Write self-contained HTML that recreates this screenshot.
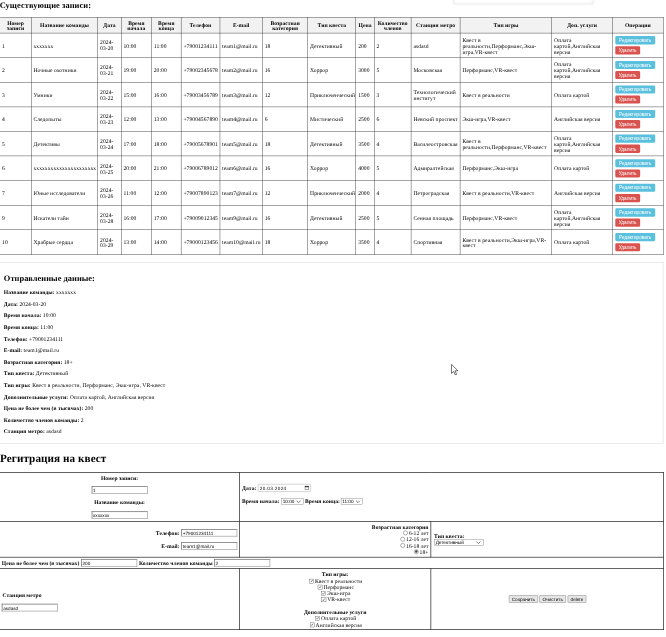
<!DOCTYPE html>
<html lang="ru"><head><meta charset="utf-8"><title>Регитрация на квест</title>
<style>
html,body{margin:0;padding:0;background:#fff;}
body{width:666px;height:637px;overflow:hidden;position:relative;font-family:"Liberation Serif",serif;font-size:16px;color:#000;}
#page{letter-spacing:0.15px;text-rendering:geometricPrecision;position:absolute;left:0;top:0;width:1903px;height:1820px;transform:scale(0.35);transform-origin:0 0;background:#fff;line-height:18px;}
h2.h-exist{position:absolute;left:-1px;top:0.5px;letter-spacing:0.2px;margin:0;font-size:24px;line-height:28px;font-weight:bold;}
table.recs{position:absolute;left:-1px;top:49px;width:1896px;table-layout:fixed;border-collapse:collapse;font-size:16px;line-height:17px;}
table.recs th,table.recs td{border:1px solid #000;padding:3px 8px 0 6px;text-align:left;vertical-align:middle;overflow:visible;}
table.recs th{background:#f2f2f2;text-align:center;font-weight:bold;height:41px;padding:3px 4px 0 4px;}
table.recs td{height:66.3px;white-space:nowrap;}
td.ops button{letter-spacing:0;display:block;border:0;border-radius:4px;color:#fff;font-family:"Liberation Sans",sans-serif;font-size:13.33px;line-height:15px;padding:4px 0;margin:0 0 0 1.5px;height:23.3px;text-align:center;}
td.ops .b-edit{background:#5bc0de;margin-bottom:5.7px;margin-top:-3.2px;width:114px}
td.ops .b-del{background:#d9534f;width:71px;height:23.7px}
.sent{position:absolute;left:-1px;top:749px;width:1894px;height:516.5px;border:1px solid #c2c2c2;box-sizing:content-box;}
.sent h2{position:absolute;left:11px;top:32px;margin:0;font-size:24px;line-height:28px;}
.sent p{position:absolute;left:11px;margin:0;line-height:18px;white-space:nowrap;}
h1.reg{position:absolute;left:0;top:1290.3px;margin:0;font-size:32px;line-height:37px;font-weight:bold;}
table.form{position:absolute;left:-2px;top:1348.8px;width:1897px;table-layout:fixed;border-collapse:collapse;font-size:16px;line-height:18px;}
table.form td{border:2px solid #222;padding:0 5px;vertical-align:middle;}
.inp{display:inline-block;box-sizing:border-box;width:160px;height:21.5px;border:2px solid #666;border-right-color:#a0a0a0;border-bottom-color:#a0a0a0;background:#fff;font-family:"Liberation Sans",sans-serif;font-size:13.33px;line-height:20px;padding:0.5px 2px 0 2px;text-align:left;vertical-align:middle;font-weight:normal;white-space:nowrap;overflow:hidden;letter-spacing:0;}
.sel{letter-spacing:0;display:inline-block;box-sizing:border-box;height:19px;border:1px solid #666;background:#fff;font-family:"Liberation Sans",sans-serif;font-size:13.33px;line-height:16px;padding:0 3px;text-align:left;vertical-align:middle;font-weight:normal;position:relative;white-space:nowrap;}
.sel svg{position:absolute;right:6.5px;top:4.5px;}
.blk{display:block;margin:0;}
.c1r1{text-align:center;}
.c1r1 .blk{margin-bottom:16px;height:18px;}
.c1r1 .blk.i{height:21.5px;line-height:21.5px;}
.cb{display:inline-block;box-sizing:border-box;width:13px;height:13px;border:1.4px solid #444;background:#fff;vertical-align:-2px;margin:0 3px 0 4px;position:relative;}
.cb svg{position:absolute;left:0.6px;top:0.6px;}
.rb{display:inline-block;box-sizing:border-box;width:13px;height:13px;border:1.5px solid #222;border-radius:50%;background:#fff;vertical-align:0px;margin:0 3px 0 5px;position:relative;}
.rb.on:after{content:"";position:absolute;left:1.7px;top:1.7px;width:7px;height:7px;border-radius:50%;background:#444;}
.btn{letter-spacing:0;display:inline-block;box-sizing:border-box;height:21px;border:1px solid #5a5a5a;background:#e6e6e6;font-family:"Liberation Sans",sans-serif;font-size:13.33px;line-height:19px;padding:0;text-align:center;border-radius:2px;margin:0 2.4px;vertical-align:middle;}
.lb{position:relative;top:2px}

.lb2{position:relative;top:2.5px}
b,th,h2{letter-spacing:0.08px}
.topbox{position:absolute;left:1296px;top:-20px;width:398px;height:30px;box-sizing:border-box;border:1.5px solid #dde3ea;border-radius:0 0 8px 8px;background:#fff;box-shadow:0 1px 5px rgba(0,0,40,0.08);}
.cursor{position:absolute;left:1287.5px;top:1039px;}

</style></head>
<body>
<div id="page">
<h2 class="h-exist">Существующие записи:</h2>
<table class="recs"><colgroup><col style="width:89.6px"><col style="width:190.4px"><col style="width:66.7px"><col style="width:86.6px"><col style="width:84.7px"><col style="width:110.7px"><col style="width:121.7px"><col style="width:129.6px"><col style="width:137.3px"><col style="width:52.3px"><col style="width:105.7px"><col style="width:140.0px"><col style="width:262.0px"><col style="width:173.1px"><col style="width:145.6px"></colgroup>
<thead><tr><th>Номер записи</th><th>Название команды</th><th>Дата</th><th>Время начала</th><th>Время конца</th><th>Телефон</th><th>E-mail</th><th>Возрастная категория</th><th>Тип квеста</th><th>Цена</th><th>Количество членов</th><th>Станция метро</th><th>Тип игры</th><th>Доп. услуги</th><th>Операции</th></tr></thead>
<tbody>
<tr><td>1</td><td>xxxxxxx</td><td>2024-<br>03-20</td><td>10:00</td><td>11:00</td><td>+79001234111</td><td>team1@mail.ru</td><td>18</td><td>Детективный</td><td>200</td><td>2</td><td>asdasd</td><td>Квест в<br>реальности,Перформанс,Экш-<br>игра,VR-квест</td><td>Оплата<br>картой,Английская<br>версия</td><td class="ops"><button class="b-edit">Редактировать</button><button class="b-del">Удалить</button></td></tr>
<tr><td>2</td><td>Ночные охотники</td><td>2024-<br>03-21</td><td>19:00</td><td>20:00</td><td>+79002345678</td><td>team2@mail.ru</td><td>16</td><td>Хоррор</td><td>3000</td><td>5</td><td>Московская</td><td>Перформанс,VR-квест</td><td>Оплата<br>картой,Английская<br>версия</td><td class="ops"><button class="b-edit">Редактировать</button><button class="b-del">Удалить</button></td></tr>
<tr><td>3</td><td>Умники</td><td>2024-<br>03-22</td><td>15:00</td><td>16:00</td><td>+79003456789</td><td>team3@mail.ru</td><td>12</td><td>Приключенческий</td><td>1500</td><td>3</td><td>Технологический<br>институт</td><td>Квест в реальности</td><td>Оплата картой</td><td class="ops"><button class="b-edit">Редактировать</button><button class="b-del">Удалить</button></td></tr>
<tr><td>4</td><td>Следопыты</td><td>2024-<br>03-23</td><td>12:00</td><td>13:00</td><td>+79004567890</td><td>team4@mail.ru</td><td>6</td><td>Мистический</td><td>2500</td><td>6</td><td>Невский проспект</td><td>Экш-игра,VR-квест</td><td>Английская версия</td><td class="ops"><button class="b-edit">Редактировать</button><button class="b-del">Удалить</button></td></tr>
<tr><td>5</td><td>Детективы</td><td>2024-<br>03-24</td><td>17:00</td><td>18:00</td><td>+79005678901</td><td>team5@mail.ru</td><td>18</td><td>Детективный</td><td>3500</td><td>4</td><td>Василеостровская</td><td>Квест в<br>реальности,Перформанс,VR-квест</td><td>Оплата<br>картой,Английская<br>версия</td><td class="ops"><button class="b-edit">Редактировать</button><button class="b-del">Удалить</button></td></tr>
<tr><td>6</td><td>xxxxxxxxxxxxxxxxxxxxxx</td><td>2024-<br>03-25</td><td>20:00</td><td>21:00</td><td>+79006789012</td><td>team6@mail.ru</td><td>16</td><td>Хоррор</td><td>4000</td><td>5</td><td>Адмиралтейская</td><td>Перформанс,Экш-игра</td><td>Оплата картой</td><td class="ops"><button class="b-edit">Редактировать</button><button class="b-del">Удалить</button></td></tr>
<tr><td>7</td><td>Юные исследователи</td><td>2024-<br>03-26</td><td>11:00</td><td>12:00</td><td>+79007890123</td><td>team7@mail.ru</td><td>12</td><td>Приключенческий</td><td>2000</td><td>4</td><td>Петроградская</td><td>Квест в реальности,VR-квест</td><td>Английская версия</td><td class="ops"><button class="b-edit">Редактировать</button><button class="b-del">Удалить</button></td></tr>
<tr><td>9</td><td>Искатели тайн</td><td>2024-<br>03-28</td><td>16:00</td><td>17:00</td><td>+79009012345</td><td>team9@mail.ru</td><td>16</td><td>Детективный</td><td>2500</td><td>5</td><td>Сенная площадь</td><td>Перформанс,VR-квест</td><td>Оплата<br>картой,Английская<br>версия</td><td class="ops"><button class="b-edit">Редактировать</button><button class="b-del">Удалить</button></td></tr>
<tr><td>10</td><td>Храбрые сердца</td><td>2024-<br>03-29</td><td>13:00</td><td>14:00</td><td>+79000123456</td><td>team10@mail.ru</td><td>18</td><td>Хоррор</td><td>3500</td><td>4</td><td>Спортивная</td><td>Квест в реальности,Экш-игра,VR-<br>квест</td><td>Оплата картой</td><td class="ops"><button class="b-edit">Редактировать</button><button class="b-del">Удалить</button></td></tr>
</tbody></table>
<div class="sent">
<h2>Отправленные данные:</h2>
<p style="top:77.0px"><b>Название команды:</b> xxxxxxx</p>
<p style="top:110.2px"><b>Дата:</b> 2024-03-20</p>
<p style="top:143.4px"><b>Время начала:</b> 10:00</p>
<p style="top:176.6px"><b>Время конца:</b> 11:00</p>
<p style="top:209.8px"><b>Телефон:</b> +79001234111</p>
<p style="top:243.0px"><b>E-mail:</b> team1@mail.ru</p>
<p style="top:276.2px"><b>Возрастная категория:</b> 18+</p>
<p style="top:309.4px"><b>Тип квеста:</b> Детективный</p>
<p style="top:342.6px"><b>Тип игры:</b> Квест в реальности, Перформанс, Экш-игра, VR-квест</p>
<p style="top:375.8px"><b>Дополнительные услуги:</b> Оплата картой, Английская версия</p>
<p style="top:409.0px"><b>Цена не более чем (в тысячах):</b> 200</p>
<p style="top:442.2px"><b>Количество членов команды:</b> 2</p>
<p style="top:475.4px"><b>Станция метро:</b> asdasd</p>
</div>
<h1 class="reg">Регитрация на квест</h1>
<table class="form"><colgroup><col style="width:685.3px"><col style="width:546.8px"><col style="width:664.9px"></colgroup>
<tr style="height:139.9px">
<td class="c1r1"><div style="position:relative;top:-1.8px">
<b class="blk lb2">Номер записи:</b>
<span class="blk i"><span class="inp">1</span></span>
<b class="blk lb2">Название команды:</b>
<span class="blk i" style="margin-bottom:0"><span class="inp">xxxxxxx</span></span></div>
</td>
<td colspan="2" style="vertical-align:top"><div style="padding-top:32px;padding-left:1px">
<div style="height:21.5px;line-height:21.5px"><b class="lb" style="letter-spacing:0.4px">Дата:</b> <span class="inp" style="margin-left:-0.4px;width:151px;letter-spacing:1px;position:relative;padding-left:4px;border:1.5px solid #858585;border-radius:3px">20.03.2024<svg style="position:absolute;right:4px;top:3px" width="13" height="13" viewBox="0 0 13 13"><rect x="1" y="2" width="11" height="10" rx="1.5" fill="none" stroke="#222" stroke-width="1.4"/><rect x="1" y="2" width="11" height="3" fill="#222"/></svg></span></div>
<div style="height:19px;line-height:19px;margin-top:18px"><b class="lb">Время начала:</b> <span class="sel" style="width:63.5px;margin-left:1px">10:00<svg width="14" height="9" viewBox="0 0 14 9"><path d="M1 1.2l6 6 6-6" fill="none" stroke="#222" stroke-width="1.7"/></svg></span> <b class="lb" style="margin-left:0">Время конца:</b> <span class="sel" style="width:63.5px;margin-left:-1.8px">11:00<svg width="14" height="9" viewBox="0 0 14 9"><path d="M1 1.2l6 6 6-6" fill="none" stroke="#222" stroke-width="1.7"/></svg></span></div>
</div></td>
</tr>
<tr style="height:102.3px">
<td style="text-align:right;padding-right:5.2px">
<div style="height:21.5px;line-height:21.5px"><b class="lb">Телефон:</b> <span class="inp" style="margin-left:1px">+79001234111</span></div>
<div style="height:21.5px;line-height:21.5px;margin-top:16px"><b class="lb">E-mail:</b> <span class="inp" style="margin-left:1px">team1@mail.ru</span></div>
</td>
<td style="text-align:right;padding:4px 6px 0 5px;line-height:17.85px;letter-spacing:0.05px">
<b>Возрастная категория</b><br>
<span class="rb"></span>6-12 лет<br>
<span class="rb"></span>12-16 лет<br>
<span class="rb"></span>16-18 лет<br>
<span class="rb on"></span>18+
</td>
<td style="padding-left:8px">
<div style="position:relative;top:1.5px"><b>Тип квеста:</b><br><span class="sel" style="width:141px;vertical-align:top;height:18.5px;line-height:16px;margin-top:-1.6px;margin-left:0.7px">Детективный<svg width="14" height="9" viewBox="0 0 14 9"><path d="M1 1.2l6 6 6-6" fill="none" stroke="#222" stroke-width="1.7"/></svg></span></div>
</td>
</tr>
<tr style="height:32.3px">
<td colspan="3"><b class="lb">Цена не более чем (в тысячах)</b> <span class="inp" style="margin:0 1.3px 0 1px">200</span> <b class="lb">Количество членов команды</b> <span class="inp" style="margin:0">2</span></td>
</tr>
<tr style="height:174.6px">
<td>
<div style="position:relative;top:7px"><b class="blk" style="padding-left:2px;position:relative;top:0.7px">Станция метро</b>
<span class="blk" style="margin-top:16px;height:21.5px;line-height:21.5px"><span class="inp">asdasd</span></span></div>
</td>
<td style="text-align:center;line-height:17.85px;padding-top:5px">
<b>Тип игры:</b><br>
<span class="cb"><svg width="9" height="9" viewBox="0 0 9 9"><path d="M1 4.5l2.5 2.5 4.5-5.5" fill="none" stroke="#222" stroke-width="1.6"/></svg></span>Квест в реальности<br>
<span class="cb"><svg width="9" height="9" viewBox="0 0 9 9"><path d="M1 4.5l2.5 2.5 4.5-5.5" fill="none" stroke="#222" stroke-width="1.6"/></svg></span>Перформанс<br>
<span class="cb"><svg width="9" height="9" viewBox="0 0 9 9"><path d="M1 4.5l2.5 2.5 4.5-5.5" fill="none" stroke="#222" stroke-width="1.6"/></svg></span>Экш-игра<br>
<span class="cb"><svg width="9" height="9" viewBox="0 0 9 9"><path d="M1 4.5l2.5 2.5 4.5-5.5" fill="none" stroke="#222" stroke-width="1.6"/></svg></span>VR-квест<br>
<br>
<b>Дополнительные услуги</b><br>
<span class="cb"><svg width="9" height="9" viewBox="0 0 9 9"><path d="M1 4.5l2.5 2.5 4.5-5.5" fill="none" stroke="#222" stroke-width="1.6"/></svg></span>Оплата картой<br>
<span class="cb"><svg width="9" height="9" viewBox="0 0 9 9"><path d="M1 4.5l2.5 2.5 4.5-5.5" fill="none" stroke="#222" stroke-width="1.6"/></svg></span>Английская версия
</td>
<td style="text-align:center;padding-left:7px"><span class="btn" style="width:82.5px">Сохранить</span><span class="btn" style="width:75.5px">Очистить</span><span class="btn" style="width:53.5px">delete</span></td>
</tr>
</table>
<div class="topbox"></div>
<svg class="cursor" width="24" height="34" viewBox="0 0 24 34"><path d="M2 2v26l6.2-6 4.6 10.2 3.9-1.6-4.6-10.1h8.4z" fill="#fff" stroke="#222" stroke-width="1.8" stroke-linejoin="round"/></svg>
</div>
</body></html>
